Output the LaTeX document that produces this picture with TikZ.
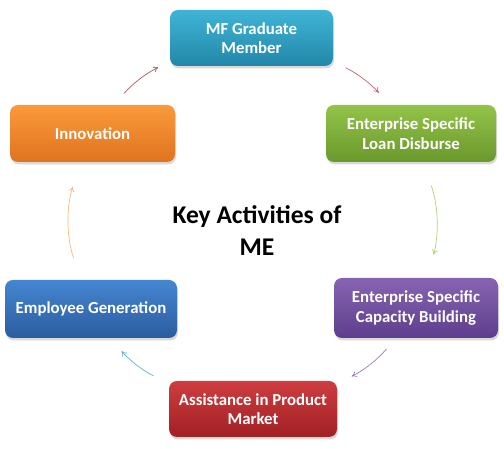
\documentclass[tikz,border=0pt]{standalone}
\usepackage{fontspec}
\setmainfont{Carlito}
\usepackage{xcolor}
\usepackage{tikz}
\usetikzlibrary{arrows.meta, shadows}
\definecolor{gradtop}{HTML}{40B4D6}
\definecolor{gradbot}{HTML}{2287A8}
\definecolor{loantop}{HTML}{94C34A}
\definecolor{loanbot}{HTML}{6A982C}
\definecolor{captop}{HTML}{8764B1}
\definecolor{capbot}{HTML}{5D3E8D}
\definecolor{mkttop}{HTML}{CE3D3F}
\definecolor{mktbot}{HTML}{A02125}
\definecolor{emptop}{HTML}{4586D1}
\definecolor{empbot}{HTML}{2B5C9F}
\definecolor{innotop}{HTML}{FA9A3B}
\definecolor{innobot}{HTML}{E0731F}
\definecolor{cyclered}{HTML}{C4606C}
\definecolor{cycleblue}{HTML}{5FB2CF}
\tikzstyle{activity} = [rectangle, rounded corners=8pt, minimum width=166pt, minimum height=57pt, align=center, text=white, font=\fontsize{16.8}{19.5}\selectfont\bfseries, drop shadow={opacity=0.3, shadow xshift=1pt, shadow yshift=-2.5pt}]
\tikzstyle{arrow} = [-{To[length=5pt, width=6pt]}, line width=0.7pt]
\tikzstyle{heading} = [align=center, font=\fontsize{25.5}{32}\selectfont\bfseries]

\begin{document}
\begin{tikzpicture}[x=1pt, y=1pt]
    \useasboundingbox (0,0) rectangle (504,449);
    % Nodes
    \node[heading] (title) at (257,218) {Key Activities of\\ME};
    \node[activity, top color=gradtop, bottom color=gradbot, minimum width=163pt, minimum height=56pt] (grad) at (251.5,411) {MF Graduate\\Member};
    \node[activity, top color=loantop, bottom color=loanbot, minimum width=170pt] (loan) at (411,315.5) {Enterprise Specific\\Loan Disburse};
    \node[activity, top color=captop, bottom color=capbot, minimum width=164pt, minimum height=60pt] (capacity) at (416,141) {Enterprise Specific\\Capacity Building};
    \node[activity, top color=mkttop, bottom color=mktbot, minimum width=168pt, minimum height=56pt] (market) at (253,40) {Assistance in Product\\Market};
    \node[activity, top color=emptop, bottom color=empbot, minimum width=172pt, minimum height=58pt] (employee) at (91,140) {Employee Generation};
    \node[activity, top color=innotop, bottom color=innobot, minimum width=165pt] (innovation) at (92.5,315.5) {Innovation};

    % Arrows
    \draw[arrow, draw=cyclered, shorten <=14pt, shorten >=16pt] (grad.-16) to[bend left=11] (loan.127);
    \draw[arrow, draw=loantop!75!white, shorten <=25pt, shorten >=24pt] (loan.-68) to[bend left=18] (capacity.70);
    \draw[arrow, draw=captop!85!white, shorten <=14pt, shorten >=16pt] (capacity.-124) to[bend left=12] (market.17);
    \draw[arrow, draw=cycleblue, shorten <=17pt, shorten >=17pt] (market.163) to[bend left=12] (employee.-56);
    \draw[arrow, draw=innotop!70!white, shorten <=23pt, shorten >=26pt] (employee.109) to[bend left=19] (innovation.-111);
    \draw[arrow, draw=cyclered!90!black, shorten <=15pt, shorten >=13pt] (innovation.53) to[bend left=11] (grad.-164);
\end{tikzpicture}
\end{document}
